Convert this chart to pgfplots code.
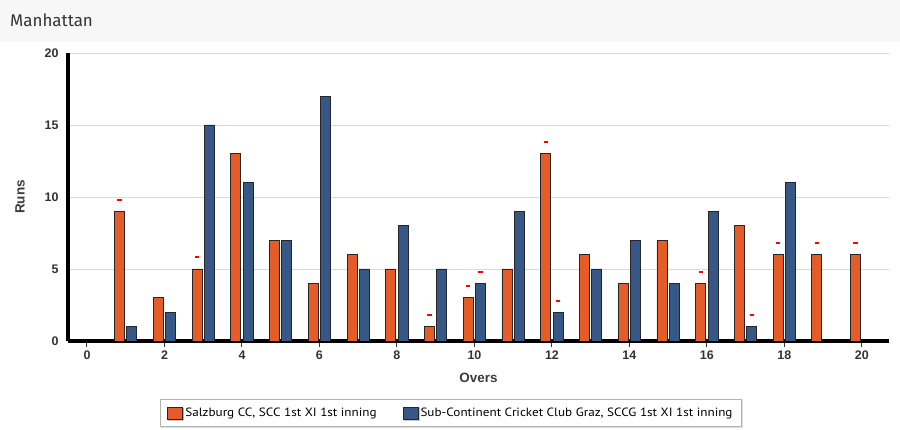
\documentclass[border=0pt]{standalone}
\usepackage{fontspec}
\setmainfont{Liberation Sans}
\newfontfamily\headfont{Fira Sans}
\newfontfamily\legfont[FakeStretch=1.1]{PT Sans}
\usepackage{pgfplots}
\pgfplotsset{compat=1.18}
\usetikzlibrary{shadows}
\definecolor{orangeC}{HTML}{E55C28}
\definecolor{blueC}{HTML}{375887}
\definecolor{barEdge}{HTML}{262626}
\definecolor{txt}{HTML}{333333}
\definecolor{lbl}{HTML}{3A3A3A}
\definecolor{gridC}{HTML}{D9D9D9}
\definecolor{headBg}{HTML}{F7F7F7}
\begin{document}
\begin{tikzpicture}
\path[use as bounding box] (0,0) rectangle (900bp,430bp);
\fill[white] (0,0) rectangle (900bp,430bp);
\fill[headBg] (0,388bp) rectangle (900bp,430bp);
\node[anchor=west, text=txt, font=\headfont\fontsize{17}{17}\selectfont, inner sep=0pt] at (10bp,410bp) {Manhattan};
\begin{axis}[
  at={(68bp,89bp)}, anchor=south west,
  scale only axis, width=821bp, height=288bp,
  xmin=-0.49, xmax=20.7, ymin=0, ymax=20,
  axis x line*=bottom, axis y line*=left,
  x axis line style={line width=4bp, black},
  y axis line style={line width=3bp, black},
  xtick={0,2,...,20}, ytick={0,5,...,20},
  tick align=outside,
  xtick style={draw=txt, line width=1bp},
  ytick style={draw=none},
  major tick length=6bp,
  ymajorgrids, grid style={gridC, line width=0.8bp},
  /pgf/number format/assume math mode=true,
  ticklabel style={font=\bfseries\fontsize{12.5}{12.5}\selectfont, text=txt},
  xlabel={Overs}, ylabel={Runs},
  label style={font=\bfseries\fontsize{13.5}{13.5}\selectfont, text=lbl},
  xlabel style={at={(axis description cs:0.5,-0.128)}, anchor=center},
  ylabel style={at={(axis description cs:-0.0585,0.5)}, anchor=center},
  legend style={at={(0.4665,-0.25)}, anchor=center, legend columns=2,
    draw=gray!60, line width=1bp, drop shadow={shadow xshift=1bp, shadow yshift=-1bp, opacity=0.25},
    font=\legfont\fontsize{12}{12}\selectfont, inner xsep=7bp, inner ysep=7bp,
    /tikz/every even column/.append style={column sep=24bp}},
  legend image code/.code={\fill[#1] (0bp,-6bp) rectangle (15bp,6bp);},
]
\addplot[ybar, bar width=10bp, bar shift=-6.2bp, fill=orangeC, draw=barEdge, line width=0.9bp]
coordinates {(1,9) (2,3) (3,5) (4,13) (5,7) (6,4) (7,6) (8,5) (9,1) (10,3)
 (11,5) (12,13) (13,6) (14,4) (15,7) (16,4) (17,8) (18,6) (19,6) (20,6)};
\addlegendentry{Salzburg CC, SCC 1st XI 1st inning}
\addplot[ybar, bar width=10bp, bar shift=6.2bp, fill=blueC, draw=barEdge, line width=0.9bp]
coordinates {(1,1) (2,2) (3,15) (4,11) (5,7) (6,17) (7,5) (8,8) (9,5) (10,4)
 (11,9) (12,2) (13,5) (14,7) (15,4) (16,9) (17,1) (18,11)};
\addlegendentry{Sub-Continent Cricket Club Graz, SCCG 1st XI 1st inning}
\addplot[only marks, mark=-, mark size=2.2bp, red, line width=2bp, forget plot]
coordinates {(0.84,9.8) (2.84,5.8) (8.84,1.8) (9.84,3.8) (11.84,13.8) (15.84,4.8)
 (17.84,6.8) (18.84,6.8) (19.84,6.8) (10.16,4.8) (12.16,2.8) (17.16,1.8)};
\end{axis}
\end{tikzpicture}
\end{document}
